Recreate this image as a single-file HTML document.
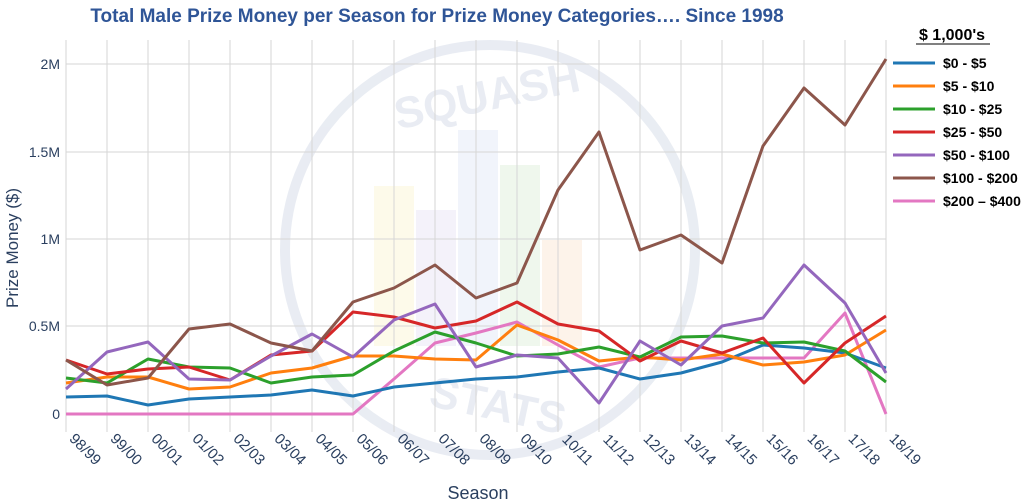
<!DOCTYPE html>
<html><head><meta charset="utf-8"><style>
body{margin:0;background:#fff;}
svg{display:block;font-family:"Liberation Sans",sans-serif;}
</style></head><body>
<svg width="1023" height="504" viewBox="0 0 1023 504" xmlns="http://www.w3.org/2000/svg">
<!-- watermark -->
<g opacity="0.4">
<circle cx="490" cy="250" r="205" fill="none" stroke="#c9d2e2" stroke-width="10"/>
<rect x="374" y="186" width="40" height="160" fill="#fbf4cc"/>
<rect x="416" y="210" width="40" height="136" fill="#e6e0f4"/>
<rect x="458" y="130" width="40" height="216" fill="#dde6f6"/>
<rect x="500" y="165" width="40" height="181" fill="#d9ecd4"/>
<rect x="542" y="240" width="40" height="106" fill="#fbe3cc"/>
<text x="490" y="110" text-anchor="middle" font-size="44" font-weight="bold" fill="#c9d2e2" transform="rotate(-12 490 110)">SQUASH</text>
<text x="495" y="420" text-anchor="middle" font-size="44" font-weight="bold" fill="#c9d2e2" transform="rotate(12 495 420)">STATS</text>
</g>
<!-- grid -->
<g stroke="#d6d6d6" stroke-width="1">
<line x1="66" y1="40" x2="66" y2="432"/><line x1="107" y1="40" x2="107" y2="432"/><line x1="148" y1="40" x2="148" y2="432"/><line x1="189" y1="40" x2="189" y2="432"/><line x1="230" y1="40" x2="230" y2="432"/><line x1="271" y1="40" x2="271" y2="432"/><line x1="312" y1="40" x2="312" y2="432"/><line x1="353" y1="40" x2="353" y2="432"/><line x1="394" y1="40" x2="394" y2="432"/><line x1="435" y1="40" x2="435" y2="432"/><line x1="476" y1="40" x2="476" y2="432"/><line x1="517" y1="40" x2="517" y2="432"/><line x1="558" y1="40" x2="558" y2="432"/><line x1="599" y1="40" x2="599" y2="432"/><line x1="640" y1="40" x2="640" y2="432"/><line x1="681" y1="40" x2="681" y2="432"/><line x1="722" y1="40" x2="722" y2="432"/><line x1="763" y1="40" x2="763" y2="432"/><line x1="804" y1="40" x2="804" y2="432"/><line x1="845" y1="40" x2="845" y2="432"/><line x1="886" y1="40" x2="886" y2="432"/>
<line x1="66" y1="326" x2="886" y2="326"/><line x1="66" y1="239" x2="886" y2="239"/><line x1="66" y1="152" x2="886" y2="152"/><line x1="66" y1="64" x2="886" y2="64"/>
</g>
<g font-size="14" fill="#2a3f5f" text-anchor="end">
<text x="60" y="419">0</text><text x="60" y="331">0.5M</text><text x="60" y="244">1M</text><text x="60" y="157">1.5M</text><text x="60" y="69">2M</text>
</g>
<text transform="translate(18 248) rotate(-90)" text-anchor="middle" font-size="17" fill="#2a3f5f">Prize Money ($)</text>
<g font-size="15" fill="#2a3f5f" text-anchor="end">
<text transform="translate(95 466) rotate(45)">98/99</text>
<text transform="translate(136 466) rotate(45)">99/00</text>
<text transform="translate(177 466) rotate(45)">00/01</text>
<text transform="translate(218 466) rotate(45)">01/02</text>
<text transform="translate(259 466) rotate(45)">02/03</text>
<text transform="translate(300 466) rotate(45)">03/04</text>
<text transform="translate(341 466) rotate(45)">04/05</text>
<text transform="translate(382 466) rotate(45)">05/06</text>
<text transform="translate(423 466) rotate(45)">06/07</text>
<text transform="translate(464 466) rotate(45)">07/08</text>
<text transform="translate(505 466) rotate(45)">08/09</text>
<text transform="translate(546 466) rotate(45)">09/10</text>
<text transform="translate(587 466) rotate(45)">10/11</text>
<text transform="translate(628 466) rotate(45)">11/12</text>
<text transform="translate(669 466) rotate(45)">12/13</text>
<text transform="translate(710 466) rotate(45)">13/14</text>
<text transform="translate(751 466) rotate(45)">14/15</text>
<text transform="translate(792 466) rotate(45)">15/16</text>
<text transform="translate(833 466) rotate(45)">16/17</text>
<text transform="translate(874 466) rotate(45)">17/18</text>
<text transform="translate(915 466) rotate(45)">18/19</text>
</g>
<text x="478" y="499" text-anchor="middle" font-size="18" fill="#2a3f5f">Season</text>
<text x="437" y="22" text-anchor="middle" font-size="19" font-weight="bold" fill="#2f5597">Total Male Prize Money per Season for Prize Money Categories…. Since 1998</text>
<!-- series -->
<g fill="none" stroke-width="3" stroke-linejoin="round">
<polyline stroke="#e377c2" points="66,414 107,414 148,414 189,414 230,414 271,414 312,414 353,414 394,379 435,343 476,333 517,322 558,345 599,367 640,358 681,358 722,358 763,358 804,358 845,313 886,414"/>
<polyline stroke="#1f77b4" points="66,397 107,396 148,405 189,399 230,397 271,395 312,390 353,396 394,387 435,383 476,379 517,377 558,372 599,368 640,379 681,373 722,362 763,345 804,348 845,353 886,368"/>
<polyline stroke="#ff7f0e" points="66,383 107,377 148,377 189,389 230,387 271,373 312,368 353,356 394,356 435,359 476,360 517,325 558,340 599,361 640,357 681,360 722,354 763,365 804,362 845,355 886,330"/>
<polyline stroke="#2ca02c" points="66,378 107,383 148,359 189,367 230,368 271,383 312,377 353,375 394,351 435,332 476,343 517,356 558,354 599,347 640,357 681,337 722,336 763,343 804,342 845,351 886,382"/>
<polyline stroke="#d62728" points="66,360 107,374 148,369 189,367 230,380 271,355 312,351 353,312 394,317 435,328 476,321 517,302 558,324 599,331 640,361 681,341 722,353 763,338 804,383 845,343 886,316"/>
<polyline stroke="#9467bd" points="66,389 107,352 148,342 189,379 230,380 271,356 312,334 353,357 394,320 435,304 476,367 517,355 558,358 599,403 640,341 681,365 722,326 763,318 804,265 845,303 886,373"/>
<polyline stroke="#8c564b" points="66,360 107,385 148,378 189,329 230,324 271,343 312,351 353,302 394,288 435,265 476,298 517,283 558,190 599,132 640,250 681,235 722,263 763,146 804,88 845,125 886,59"/>
</g>
<!-- legend -->
<text x="952" y="40" text-anchor="middle" font-size="16" font-weight="bold" fill="#000">$ 1,000's</text>
<line x1="916" y1="44" x2="990" y2="44" stroke="#000" stroke-width="1"/>
<g stroke-width="3">
<line x1="893" y1="63" x2="935" y2="63" stroke="#1f77b4"/>
<line x1="893" y1="86" x2="935" y2="86" stroke="#ff7f0e"/>
<line x1="893" y1="109" x2="935" y2="109" stroke="#2ca02c"/>
<line x1="893" y1="132" x2="935" y2="132" stroke="#d62728"/>
<line x1="893" y1="155" x2="935" y2="155" stroke="#9467bd"/>
<line x1="893" y1="178" x2="935" y2="178" stroke="#8c564b"/>
<line x1="893" y1="201" x2="935" y2="201" stroke="#e377c2"/>
</g>
<g font-size="14" font-weight="bold" fill="#000">
<text x="943" y="68">$0 - $5</text>
<text x="943" y="91">$5 - $10</text>
<text x="943" y="114">$10 - $25</text>
<text x="943" y="137">$25 - $50</text>
<text x="943" y="160">$50 - $100</text>
<text x="943" y="183">$100 - $200</text>
<text x="943" y="206">$200 – $400</text>
</g>
</svg>
</body></html>
